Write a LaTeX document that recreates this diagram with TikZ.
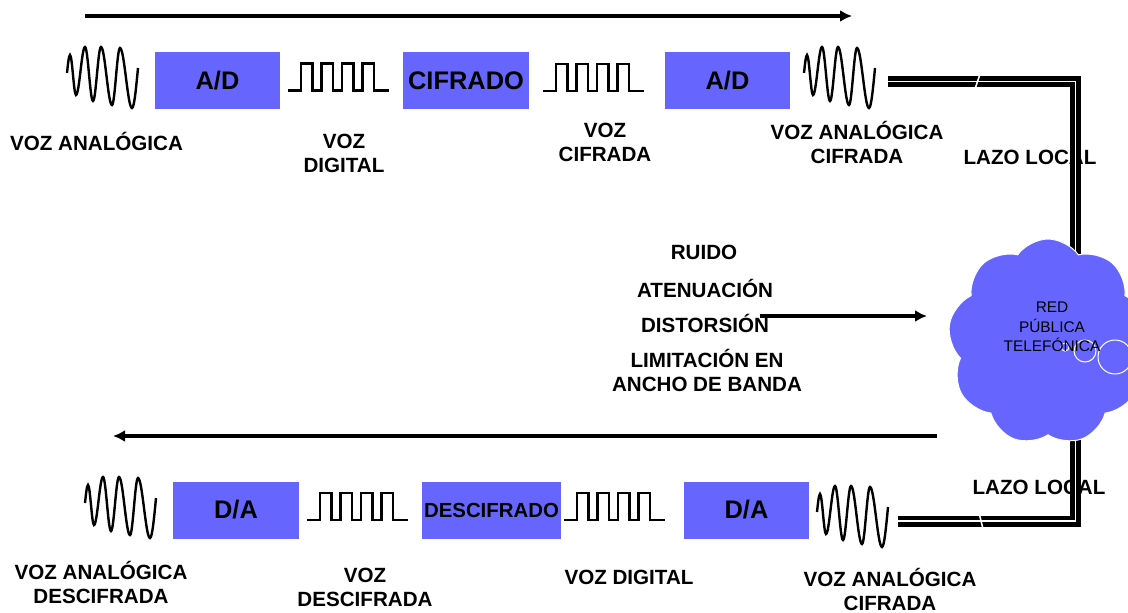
\documentclass[tikz,border=0pt]{standalone}
\usepackage{fontspec}
\setmainfont{Liberation Sans}
\usepackage{tikz}
\usetikzlibrary{arrows.meta,positioning,shapes.symbols}
\definecolor{boxblue}{HTML}{6666FF}
\newcommand{\anawave}[2]{%
\begin{scope}[shift={(#1,#2)}]
\draw[line width=1.2pt] (0,-26) sin (3,-8) cos (6,-28) sin (9,-48) cos (13.5,-24) sin (18,0) cos (22,-27) sin (26,-54) cos (30,-27) sin (34,0) cos (39.5,-29) sin (45,-58) cos (49,-29.5) sin (53,-1) cos (59,-31) sin (65,-61) cos (71,-21);
\end{scope}}
\newcommand{\digwave}[2]{%
\draw[line width=1.1pt] (#1,#2) -- ++(13,0) -- ++(0,27) -- ++(11.5,0) -- ++(0,-27) -- ++(9,0) -- ++(0,27) -- ++(11.5,0) -- ++(0,-27) -- ++(9,0) -- ++(0,27) -- ++(11.5,0) -- ++(0,-27) -- ++(9,0) -- ++(0,27) -- ++(11.5,0) -- ++(0,-27) -- ++(15,0);}

\begin{document}
\begin{tikzpicture}[x=0.5pt,y=0.5pt,
box/.style={fill=boxblue,inner sep=0pt,minimum height=28.5pt,font=\bfseries\fontsize{12.7}{15}\selectfont},
lbl/.style={font=\bfseries\fontsize{10.3}{12}\selectfont,align=center},
flow/.style={line width=1.75pt,-{Latex[length=6pt,width=6pt]}},
lazo/.style={line width=5.5pt}]
\useasboundingbox (0,0) rectangle (1128,-612);
\clip (0,0) rectangle (1128,-612);
% direction arrows
\coordinate (A1) at (85,-16);
\coordinate (A2) at (852,-16);
\coordinate (A3) at (937,-436);
\coordinate (A4) at (113,-436);
\draw[flow] (A1) -- (A2);
\draw[flow] (A3) -- (A4);
% top row
\node[box,minimum width=62.5pt] (B) at (217.5,-80.5) {A/D};
\node[box,minimum width=63pt] (C) at (466,-80.5) {CIFRADO};
\node[box,minimum width=62.5pt] (D) at (727.5,-80.5) {A/D};
\anawave{67}{-47}
\digwave{288}{-90.5}
\digwave{543}{-91}
\anawave{804}{-47}
\node[lbl] (E) at (96.5,-141) {VOZ ANALÓGICA};
\node[lbl] (F) at (344,-153) {VOZ\\DIGITAL};
\node[lbl] (G) at (605,-142) {VOZ\\CIFRADA};
\node[lbl] (H) at (857,-142) {VOZ ANALÓGICA\\CIFRADA};
\node[lbl] (I) at (1030,-157) {LAZO LOCAL};
% bottom row
\node[box,minimum width=63pt] (J) at (236,-510) {D/A};
\node[box,minimum width=69.5pt,font=\bfseries\fontsize{10.2}{12}\selectfont] (K) at (491.5,-510) {DESCIFRADO};
\node[box,minimum width=62.5pt] (L) at (746.5,-510) {D/A};
\anawave{85}{-477}
\digwave{307}{-520}
\digwave{564}{-520}
\anawave{817}{-486}
\node[lbl] (M) at (101,-582) {VOZ ANALÓGICA\\DESCIFRADA};
\node[lbl] (O) at (365,-587.5) {VOZ\\DESCIFRADA};
\node[lbl] (P) at (629,-577) {VOZ DIGITAL};
\node[lbl] (Q) at (890,-589.5) {VOZ ANALÓGICA\\CIFRADA};
\node[lbl] (R) at (1039,-487) {LAZO LOCAL};
% local loop
\coordinate (S1) at (888,-81.5);
\coordinate (S2) at (1075.5,-81.5);
\coordinate (S3) at (1075.5,-521);
\coordinate (S4) at (898,-521);
\draw[lazo] (S1) -- (S2) -- (S3) -- (S4);
\draw[white,line width=0.6pt,xshift=1pt,yshift=0.75pt] (S1) -- (S2) -- (S3) -- (S4);
\draw[white,line width=0.8pt] (975,-89) -- (980,-74);
\draw[white,line width=0.8pt] (979,-513) -- (983,-529);
% network cloud
\node[cloud,cloud puffs=9,cloud puff arc=110,aspect=1,fill=boxblue,draw=white,line width=0.5pt,minimum width=100pt,minimum height=103pt] (N) at (1048,-342) {};
\draw[fill=boxblue,draw=white,line width=0.5pt] (1115,-357) circle[radius=17];
\draw[fill=boxblue,draw=white,line width=0.5pt] (1085,-351) circle[radius=11];
\draw[fill=boxblue,draw=white,line width=0.5pt] (1065,-347) circle[radius=4];
\node[font=\fontsize{7.7}{9.75}\selectfont,align=center] (T) at (1052,-327) {RED\\PÚBLICA\\TELEFÓNICA};
% impairments
\node[lbl] (U) at (704,-252) {RUIDO};
\node[lbl] (V) at (705,-288) {ATENUACIÓN};
\node[lbl] (W) at (705,-323) {DISTORSIÓN};
\node[lbl] (X) at (707,-370.5) {LIMITACIÓN EN\\ANCHO DE BANDA};
\coordinate (Y) at (760,-316);
\coordinate (Z) at (927,-316);
\draw[flow] (Y) -- (Z);
\end{tikzpicture}
\end{document}
